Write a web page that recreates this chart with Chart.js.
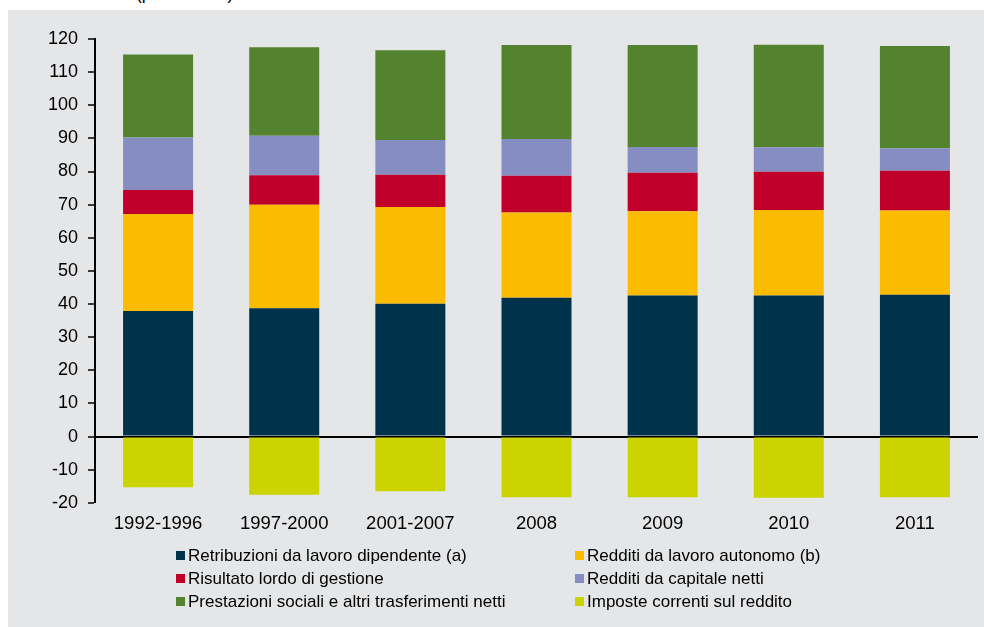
<!DOCTYPE html>
<html>
<head>
<meta charset="utf-8">
<script src="https://cdn.jsdelivr.net/npm/chart.js"></script>
<style>
  html, body { margin: 0; padding: 0; background: #fff; }
  body { width: 984px; height: 627px; position: relative; overflow: hidden; font-family: "Liberation Sans", Arial, sans-serif; }
  #topcut { position: absolute; left: 136px; top: 0; height: 9px; overflow: hidden; width: 200px; }
  #topcut span { position: absolute; top: -17px; left: 0; font-size: 17.5px; line-height: 20px; color: #000; white-space: nowrap; }
  #panel { position: absolute; left: 8px; top: 10px; width: 976px; height: 617px; background: #e5e6e8; }
  #wrap { position: absolute; left: 0; top: 0; width: 976px; height: 540px; }
  #legend { position: absolute; left: 168px; top: 534px; display: grid; grid-template-columns: 399px 300px; row-gap: 0; }
  .item { display: flex; align-items: center; height: 23px; font-size: 17px; color: #000; white-space: nowrap; }
  .box { width: 9px; height: 9px; margin-right: 3px; flex: none; }
</style>
</head>
<body>
<div id="topcut"><span>(percentuali)</span></div>
<div id="panel">
  <div id="wrap"><canvas id="chart"></canvas></div>
  <div id="legend"></div>
</div>
<script>
const categories = ['1992-1996', '1997-2000', '2001-2007', '2008', '2009', '2010', '2011'];
const retribuzioni = [37.9, 38.7, 40.1, 41.9, 42.6, 42.6, 42.8];
const autonomo = [29.3, 31.3, 29.2, 25.7, 25.4, 25.8, 25.4];
const risultato = [7.2, 8.9, 9.7, 11.1, 11.6, 11.5, 12.0];
const capitale = [15.9, 11.9, 10.5, 11.1, 7.8, 7.4, 6.8];
const prestazioni = [25.0, 26.7, 27.1, 28.4, 30.8, 31.0, 30.9];
const imposte = [-15.3, -17.6, -16.5, -18.3, -18.3, -18.5, -18.3];

const seriesNames = [
  'Retribuzioni da lavoro dipendente (a)',
  'Redditi da lavoro autonomo (b)',
  'Risultato lordo di gestione',
  'Redditi da capitale netti',
  'Prestazioni sociali e altri trasferimenti netti',
  'Imposte correnti sul reddito'
];
const seriesColors = ['#00324c', '#fbbb00', '#c0002b', '#868dc0', '#53832f', '#cbd300'];
const seriesData = [retribuzioni, autonomo, risultato, capitale, prestazioni, imposte];

const FONT = '"Liberation Sans", Arial, sans-serif';

const chart = new Chart(document.getElementById('chart'), {
  type: 'bar',
  data: {
    labels: categories,
    datasets: seriesData.map((d, i) => ({
      label: seriesNames[i],
      data: d,
      backgroundColor: seriesColors[i],
      borderWidth: 0,
      stack: 's',
      barPercentage: 0.555,
      categoryPercentage: 1
    }))
  },
  options: {
    responsive: true,
    maintainAspectRatio: false,
    animation: false,
    layout: { padding: { top: 29, right: 6, bottom: 5, left: 0 } },
    plugins: {
      legend: { display: false },
      tooltip: { enabled: false }
    },
    scales: {
      x: {
        stacked: true,
        grid: { display: false, drawTicks: false },
        border: { display: false },
        ticks: { color: '#000', padding: 10, font: { family: FONT, size: 18.5 }, maxRotation: 0 }
      },
      y: {
        stacked: true,
        min: -20,
        max: 120,
        z: 1,
        afterFit: s => { s.width = 87; },
        border: { display: true, color: '#000', width: 2 },
        grid: {
          color: c => (c.tick && c.tick.value === 0 ? '#000' : 'rgba(0,0,0,0)'),
          lineWidth: c => (c.tick && c.tick.value === 0 ? 2 : 0),
          tickColor: '#000',
          tickWidth: 1.5,
          tickLength: 7
        },
        ticks: { stepSize: 10, color: '#000', padding: 10, font: { family: FONT, size: 18 } }
      }
    }
  }
});

// legend built from the datasets, two columns like the original
const legendEl = document.getElementById('legend');
chart.data.datasets.forEach(ds => {
  const item = document.createElement('div');
  item.className = 'item';
  const box = document.createElement('span');
  box.className = 'box';
  box.style.background = ds.backgroundColor;
  item.appendChild(box);
  item.appendChild(document.createTextNode(ds.label));
  legendEl.appendChild(item);
});
</script>
</body>
</html>
